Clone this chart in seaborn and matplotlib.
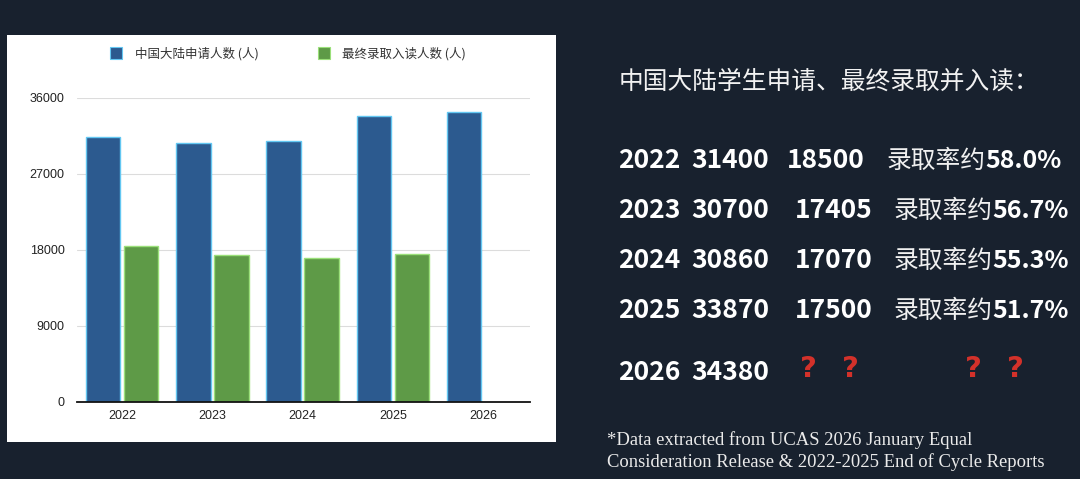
import numpy as np
import pandas as pd
import matplotlib.pyplot as plt
import seaborn as sns
from matplotlib.patches import Rectangle
from matplotlib.lines import Line2D

# ---- data ----
years = ['2022', '2023', '2024', '2025', '2026']
applicants = [31400, 30700, 30860, 33870, 34380]
enrolled = [18500, 17405, 17070, 17500, np.nan]
rate_labels = ['58.0%', '56.7%', '55.3%', '51.7%', None]
series_names = ['中国大陆申请人数 (人)', '最终录取入读人数 (人)']
y_ticks = [0, 9000, 18000, 27000, 36000]

title_right = '中国大陆学生申请、最终录取并入读：'
footnote = ['*Data extracted from UCAS 2026 January Equal',
            'Consideration Release & 2022-2025 End of Cycle Reports']

df = pd.DataFrame({
    'year': years * 2,
    'value': applicants + enrolled,
    'series': [series_names[0]] * 5 + [series_names[1]] * 5,
})

BG = '#18212e'
BLUE = '#2c5a8f'
GREEN = '#5e9a47'
W, H = 1080, 479

sns.set_theme(style='white')
plt.rcParams['font.family'] = ['Noto Sans CJK SC', 'DejaVu Sans']

fig = plt.figure(figsize=(W / 100, H / 100), dpi=100)
fig.patch.set_facecolor(BG)


def fx(px):
    return px / W


def fy(py):
    return 1 - py / H


# white panel behind the chart
fig.patches.append(Rectangle((fx(7), fy(442)), fx(556) - fx(7), fy(35) - fy(442),
                             transform=fig.transFigure, facecolor='white',
                             edgecolor='none', zorder=-5))

ax = fig.add_axes([fx(77), fy(402), fx(530) - fx(77), fy(98) - fy(402)])
ax.set_zorder(1)
ax.set_facecolor('white')

sns.barplot(data=df, x='year', y='value', hue='series', order=years,
            hue_order=series_names, palette=[BLUE, GREEN], width=0.84, gap=0.09,
            saturation=1, ax=ax, legend=False, zorder=3)

edge_cols = ['#63c7f2', '#9be07a']
for i, cont in enumerate(ax.containers):
    for bar in cont:
        bar.set_edgecolor(edge_cols[i])
        bar.set_linewidth(1.0)

ax.set_ylim(0, 36000)
ax.set_xlim(-0.5, 4.52)
ax.set_yticks(y_ticks)
ax.set_yticklabels([str(t) for t in y_ticks], fontsize=9, color='#222222',
                   family=['Liberation Sans', 'DejaVu Sans'])
ax.set_xticks(range(len(years)))
ax.set_xticklabels(years, fontsize=9, color='#222222',
                   family=['Liberation Sans', 'DejaVu Sans'])
ax.tick_params(axis='y', length=0, pad=9)
ax.tick_params(axis='x', length=0, pad=6)
ax.set_xlabel('')
ax.set_ylabel('')
for t in y_ticks[1:]:
    ax.axhline(t, color='#dcdcdc', lw=0.8, zorder=1)
for s in ['top', 'right', 'left']:
    ax.spines[s].set_visible(False)
ax.spines['bottom'].set_color('#111111')
ax.spines['bottom'].set_linewidth(1.3)
ax.spines['bottom'].set_zorder(5)

handles = [Line2D([], [], marker='s', linestyle='none', markersize=9,
                  markerfacecolor=c, markeredgecolor=e, markeredgewidth=0.8)
           for c, e in zip([BLUE, GREEN], edge_cols)]
fig.legend(handles, series_names, loc='center', bbox_to_anchor=(fx(285), fy(54)),
           ncol=2, frameon=False, fontsize=9, columnspacing=4.2,
           handletextpad=0.5, labelcolor='#333333')

# ---- right-hand text ----
fig.text(fx(619), fy(82), title_right, fontsize=17.8, color='#f2f2f2',
         va='center', ha='left')

row_y = [161, 211, 261, 311, 372]
col_year, col_app = 618, 691
col_enr = [787, 795, 795, 795]
col_rate = [886, 893, 893, 893]
num_kw = dict(fontsize=19, color='white', fontweight='bold', va='center', ha='left')
for i, yr in enumerate(years):
    y = fy(row_y[i])
    fig.text(fx(col_year), y, yr, **num_kw)
    fig.text(fx(col_app), y, f'{applicants[i]}', **num_kw)
    if rate_labels[i] is not None:
        fig.text(fx(col_enr[i]), y, f'{int(enrolled[i])}', **num_kw)
        fig.text(fx(col_rate[i]), y, '录取率约', fontsize=17.8, color='#f0f0f0',
                 va='center', ha='left')
        fig.text(fx(col_rate[i] + 99), y, rate_labels[i], fontsize=18,
                 color='white', fontweight='bold', va='center', ha='left')
    else:
        for qx in [808, 850, 973, 1015]:
            fig.text(fx(qx), fy(369), '?', fontsize=21, color='#d3312a',
                     fontweight='bold', va='center', ha='center',
                     family=['DejaVu Sans'])

for j, line in enumerate(footnote):
    fig.text(fx(607), fy(440 + 22 * j), line, fontsize=13.4, color='#ebebeb',
             va='center', ha='left', family=['Liberation Serif', 'DejaVu Serif'])

fig.savefig('out.png', dpi=100, facecolor=BG)
